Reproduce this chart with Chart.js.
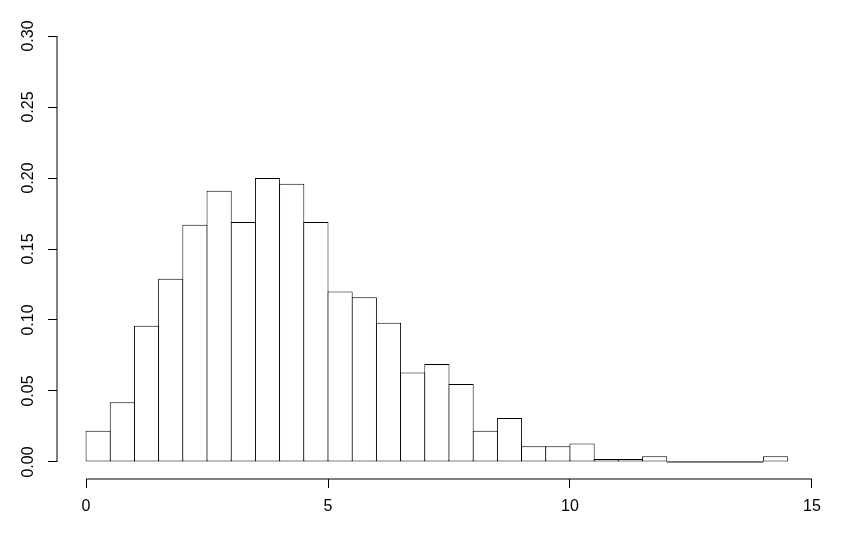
<!DOCTYPE html>
<html lang="en">
<head>
  <meta charset="UTF-8">
  <title>Histogram</title>
  <script src="https://cdn.jsdelivr.net/npm/chart.js"></script>
  <style>
    body { margin: 0; background-color: #ffffff; }
    canvas { display: block; }
  </style>
</head>
<body>
  <canvas id="chart" width="861" height="537"></canvas>
  <script>
    // histogram bins (width 0.5), centres and densities
    const binCentres = [0.25, 0.75, 1.25, 1.75, 2.25, 2.75, 3.25, 3.75, 4.25, 4.75,
                        5.25, 5.75, 6.25, 6.75, 7.25, 7.75, 8.25, 8.75, 9.25, 9.75,
                        10.25, 10.75, 11.25, 11.75, 12.25, 12.75, 13.25, 13.75, 14.25];
    const densities = [0.022, 0.042, 0.096, 0.129, 0.167, 0.191, 0.169, 0.200, 0.196, 0.169,
                       0.120, 0.116, 0.098, 0.063, 0.069, 0.055, 0.022, 0.031, 0.011, 0.011,
                       0.013, 0.002, 0.002, 0.004, 0, 0, 0, 0, 0.004];
    const xTicks = [0, 5, 10, 15];
    const yTicks = [0, 0.05, 0.10, 0.15, 0.20, 0.25, 0.30];

    const font = { family: "'Liberation Sans', Arial, sans-serif", size: 16 };

    const bars = binCentres.map((x, i) => ({ x: x, y: densities[i] }));

    new Chart(document.getElementById('chart'), {
      type: 'bar',
      data: {
        datasets: [
          {
            type: 'bar',
            data: bars,
            backgroundColor: '#ffffff',
            borderColor: '#000000',
            borderWidth: 1,
            borderSkipped: false,
            categoryPercentage: 1,
            barPercentage: 1.04
          },
          { // flat line where the empty bins sit (12 to 14)
            type: 'line',
            data: [{ x: 12, y: 0 }, { x: 14, y: 0 }],
            borderColor: '#000000', borderWidth: 1, pointRadius: 0, clip: false
          },
          { // x axis line, spans the tick range only
            type: 'line',
            data: [{ x: 0, y: -0.012 }, { x: 15, y: -0.012 }],
            borderColor: '#000000', borderWidth: 1, pointRadius: 0, clip: false
          },
          { // y axis line
            type: 'line',
            data: [{ x: -0.6, y: 0 }, { x: -0.6, y: 0.3 }],
            borderColor: '#000000', borderWidth: 1, pointRadius: 0, clip: false
          }
        ]
      },
      options: {
        responsive: false,
        animation: false,
        layout: { padding: { top: 19, right: 20, left: 0, bottom: 0 } },
        plugins: { legend: { display: false }, tooltip: { enabled: false } },
        scales: {
          x: {
            type: 'linear',
            min: -0.6, max: 15.6,
            offset: false,
            border: { display: false },
            grid: { offset: false, drawOnChartArea: false, drawTicks: true, tickLength: 9, color: '#000000' },
            ticks: { color: '#000000', font: font, padding: 9, maxRotation: 0 },
            afterBuildTicks: (axis) => { axis.ticks = xTicks.map(v => ({ value: v })); },
            afterFit: (axis) => { axis.height = 58; }
          },
          y: {
            type: 'linear',
            min: -0.012, max: 0.312,
            border: { display: false },
            grid: { drawOnChartArea: false, drawTicks: true, tickLength: 9, color: '#000000' },
            ticks: {
              color: '#000000', font: font, padding: 4,
              minRotation: 90, maxRotation: 90, crossAlign: 'center',
              callback: (v) => v.toFixed(2)
            },
            afterBuildTicks: (axis) => { axis.ticks = yTicks.map(v => ({ value: v })); },
            afterFit: (axis) => { axis.width = 57; }
          }
        }
      }
    });
  </script>
</body>
</html>
